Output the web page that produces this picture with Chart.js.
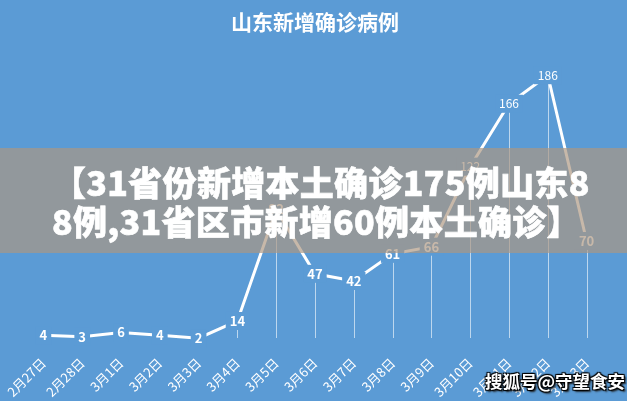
<!DOCTYPE html>
<html><head><meta charset="utf-8">
<script src="https://cdn.jsdelivr.net/npm/chart.js@4"></script>
<style>
html,body{margin:0;padding:0;background:#5b9bd5;}
#wrap{position:relative;width:627px;height:401px;overflow:hidden;background:#5b9bd5;}
canvas{display:block;}
#banner{position:absolute;left:0;top:148px;width:627px;height:105px;background:rgba(172,150,128,0.68);}
#btext{position:absolute;left:52px;top:14px;color:#fff;font-family:'Noto Sans CJK SC';font-weight:900;font-size:34px;line-height:39px;white-space:nowrap;-webkit-text-stroke:0.6px #fff;letter-spacing:0.3px;}
#wm{position:absolute;left:485px;top:369px;font-family:'Noto Sans CJK SC';font-weight:bold;font-size:17.5px;line-height:24px;color:#fff;white-space:nowrap;text-shadow:1px 1px 1px #000,-1px -1px 1px #000,1px -1px 1px #000,-1px 1px 1px #000,2px 2px 2px #222;}
</style></head>
<body>
<div id="wrap">
<canvas id="c" width="627" height="401"></canvas>
<div id="banner"><div id="btext">【31省份新增本土确诊175例山东8<br>8例,31省区市新增60例本土确诊】</div></div>
<div id="wm">搜狐号@守望食安</div>
</div>
<script>
const titleText = '山东新增确诊病例';
const categories = ['2月27日','2月28日','3月1日','3月2日','3月3日','3月4日','3月5日','3月6日','3月7日','3月8日','3月9日','3月10日','3月11日','3月12日','3月13日'];
const values = [4,3,6,4,2,14,92,47,42,61,66,122,166,186,70];
const yTicks = {min:0, max:200};

const BG = '#5b9bd5';
const FONT = "'Noto Sans CJK SC', 'Noto Sans', sans-serif";

const dropLines = {
  id:'dropLines',
  beforeDatasetsDraw(chart){
    const ctx = chart.ctx, meta = chart.getDatasetMeta(0), y0 = chart.scales.y.getPixelForValue(0);
    ctx.save();
    ctx.strokeStyle = 'rgba(255,255,255,0.6)';
    ctx.lineWidth = 1;
    meta.data.forEach(p=>{
      ctx.beginPath();
      ctx.moveTo(Math.round(p.x)+0.5, p.y);
      ctx.lineTo(Math.round(p.x)+0.5, y0-3);
      ctx.stroke();
    });
    ctx.restore();
  }
};
const valueLabels = {
  id:'valueLabels',
  afterDatasetsDraw(chart){
    const ctx = chart.ctx, meta = chart.getDatasetMeta(0);
    ctx.save();
    ctx.textAlign = 'center';
    ctx.textBaseline = 'middle';
    meta.data.forEach((p,i)=>{
      const t = String(values[i]);
      ctx.font = (values[i] < 100 ? 'bold 13px ' : '12px ') + FONT;
      const w = ctx.measureText(t).width + 8;
      ctx.fillStyle = BG;
      ctx.fillRect(p.x - w/2, p.y - 9, w, 18);
      ctx.fillStyle = '#fff';
      ctx.fillText(t, p.x, p.y);
    });
    ctx.restore();
  }
};

new Chart(document.getElementById('c'), {
  type:'line',
  data:{labels:categories, datasets:[{data:values, borderColor:'#ffffff', borderWidth:3, pointRadius:0, tension:0, fill:false}]},
  options:{
    responsive:false, animation:false, devicePixelRatio:1,
    layout:{padding:{left:24,right:21,top:0,bottom:0}},
    plugins:{
      legend:{display:false}, tooltip:{enabled:false},
      title:{display:true, text:titleText, color:'#ffffff', font:{size:21, family:FONT, weight:'bold'}, padding:{top:9,bottom:21}}
    },
    scales:{
      x:{offset:true, grid:{display:false}, border:{display:false},
        ticks:{color:'#ffffff', font:{size:13, family:FONT}, minRotation:45, maxRotation:45, padding:6, autoSkip:false},
        afterFit(s){ s.height = 60; s.paddingLeft = 0; s.paddingRight = 0; }},
      y:{display:false, min:yTicks.min, max:yTicks.max}
    }
  },
  plugins:[dropLines, valueLabels]
});
</script>
</body></html>
